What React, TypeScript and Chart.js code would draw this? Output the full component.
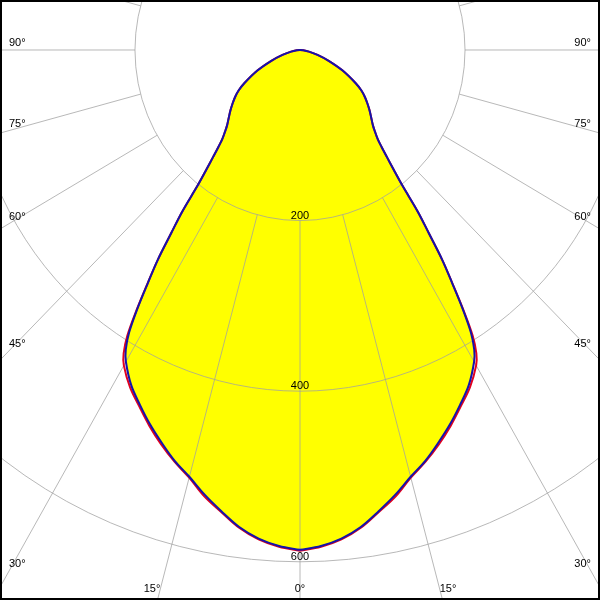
import { useEffect, useRef } from "react";
import { Chart, registerables } from "chart.js";

Chart.register(...registerables);

// Gamma angles (degrees from nadir) and luminous intensity (cd)
const gammaAngles = [0, 2.5, 5, 7.5, 10, 12.5, 15, 17.5, 20, 22.5, 25, 27.5, 30, 31, 32, 33, 34, 35, 36, 37, 38, 39, 40, 41, 42, 43.5, 45, 47.5, 50, 52.5, 55, 57.5, 60, 65, 70, 75, 80, 85, 90];
const intensityC0 = [587, 583, 576, 565, 550, 536, 519, 506, 492, 477, 461, 446, 427, 415, 395, 364, 331, 301, 266, 237, 201, 180, 164, 151, 141, 132, 125, 117, 110, 103, 96, 88, 78, 57, 37, 22, 11, 4, 0];
const intensityC90 = [586, 582, 575, 564, 549, 534, 518, 505, 490, 475, 459, 443, 422, 410, 391, 362, 330, 301, 266, 237, 201, 180, 164, 151, 141, 132, 125, 117, 110, 103, 96, 88, 78, 57, 37, 22, 11, 4, 0];

// Grid
const ringValues = [200, 400, 600, 800];
const ringLabels = ["200", "400", "600"];
const spokeAngles = [0, 15, 30, 45, 60, 75, 90, 105, 120, 135, 150, 165, 180];
const angleLabelValues = [0, 15, 30, 45, 60, 75, 90];

// Visible window of the diagram in cd (x horizontal, y vertical, center at 0,0)
const xRange = [-363.6, 363.6];
const yRange = [-644.8, 58.6];

const toRad = (d: number) => (d * Math.PI) / 180;

function closedCurve(values: number[]) {
  const pts: { x: number; y: number }[] = [];
  for (let i = 0; i < gammaAngles.length; i++) {
    const g = toRad(gammaAngles[i]);
    pts.push({ x: values[i] * Math.sin(g), y: -values[i] * Math.cos(g) });
  }
  for (let i = gammaAngles.length - 2; i >= 0; i--) {
    const g = toRad(gammaAngles[i]);
    pts.push({ x: -values[i] * Math.sin(g), y: -values[i] * Math.cos(g) });
  }
  return pts;
}

const FONT = '11px "Liberation Sans", Arial, sans-serif';

const polarGrid = {
  id: "polarGrid",
  afterDatasetDraw(chart: any, args: any) {
    if (args.index !== 0) return;
    const ctx = chart.ctx;
    const xs = chart.scales.x;
    const ys = chart.scales.y;
    const cx = xs.getPixelForValue(0);
    const cy = ys.getPixelForValue(0);
    ctx.save();
    ctx.strokeStyle = "rgba(160,160,160,0.75)";
    ctx.lineWidth = 1;
    for (const r of ringValues) {
      const rx = xs.getPixelForValue(r) - cx;
      const ry = ys.getPixelForValue(-r) - cy;
      ctx.beginPath();
      ctx.ellipse(cx, cy, rx, ry, 0, 0, Math.PI * 2);
      ctx.stroke();
    }
    const inner = ringValues[0];
    for (const a of spokeAngles) {
      const sides = a === 0 || a === 180 ? [1] : [-1, 1];
      for (const s of sides) {
        const g = toRad(a);
        const x1 = xs.getPixelForValue(s * inner * Math.sin(g));
        const y1 = ys.getPixelForValue(-inner * Math.cos(g));
        const x2 = xs.getPixelForValue(s * 1500 * Math.sin(g));
        const y2 = ys.getPixelForValue(-1500 * Math.cos(g));
        ctx.beginPath();
        ctx.moveTo(x1, y1);
        ctx.lineTo(x2, y2);
        ctx.stroke();
      }
    }
    ctx.restore();
  },
  afterDraw(chart: any) {
    const ctx = chart.ctx;
    const xs = chart.scales.x;
    const ys = chart.scales.y;
    const cx = xs.getPixelForValue(0);
    const cy = ys.getPixelForValue(0);
    const W = chart.width;
    const H = chart.height;
    ctx.save();
    ctx.fillStyle = "#000";
    ctx.font = FONT;
    ringLabels.forEach((lab, i) => {
      const r = ringValues[i];
      const y = ys.getPixelForValue(-r);
      ctx.textAlign = "center";
      ctx.textBaseline = "alphabetic";
      ctx.fillText(lab, cx, y - 2);
    });
    const leftX = 9;
    const rightX = W - 9;
    const bottomY = H - 11;
    for (const a of angleLabelValues) {
      const sides = a === 0 ? [1] : [-1, 1];
      for (const s of sides) {
        const g = toRad(a);
        const ux = xs.getPixelForValue(s * Math.sin(g)) - cx;
        const uy = ys.getPixelForValue(-Math.cos(g)) - cy;
        let side = false;
        let py = 0;
        if (Math.abs(ux) > 1e-9) {
          const tx = ((s < 0 ? leftX : rightX) - cx) / ux;
          py = cy + tx * uy;
          if (py <= bottomY) side = true;
        }
        ctx.textBaseline = "middle";
        if (side) {
          ctx.textAlign = s < 0 ? "left" : "right";
          ctx.fillText(`${a}°`, s < 0 ? leftX : rightX, py - 7);
        } else {
          const t = (bottomY - cy) / uy;
          const px = cx + t * ux;
          ctx.textAlign = a === 0 ? "center" : s < 0 ? "right" : "left";
          ctx.fillText(`${a}°`, px, bottomY);
        }
      }
    }
    ctx.strokeStyle = "#000";
    ctx.lineWidth = 2;
    ctx.strokeRect(1, 1, W - 2, H - 2);
    ctx.restore();
  },
};

export default function App() {
  const ref = useRef<HTMLCanvasElement | null>(null);
  useEffect(() => {
    if (!ref.current) return;
    const chart = new Chart(ref.current, {
      type: "scatter",
      data: {
        datasets: [
          {
            label: "fill",
            data: closedCurve(intensityC90),
            showLine: true,
            fill: "shape",
            backgroundColor: "#ffff00",
            borderWidth: 0,
            borderColor: "rgba(0,0,0,0)",
            pointRadius: 0,
            tension: 0.35,
            order: 3,
          } as any,
          {
            label: "C0-C180",
            data: closedCurve(intensityC0),
            showLine: true,
            fill: false,
            borderColor: "rgb(225,0,30)",
            borderWidth: 2,
            pointRadius: 0,
            tension: 0.35,
            order: 2,
          },
          {
            label: "C90-C270",
            data: closedCurve(intensityC90),
            showLine: true,
            fill: false,
            borderColor: "rgb(20,20,170)",
            borderWidth: 2,
            pointRadius: 0,
            tension: 0.35,
            order: 1,
          },
        ],
      },
      options: {
        animation: false,
        responsive: false,
        devicePixelRatio: 1,
        layout: { padding: 0 },
        plugins: { legend: { display: false }, tooltip: { enabled: false }, title: { display: false } },
        scales: {
          x: { type: "linear", min: xRange[0], max: xRange[1], display: false },
          y: { type: "linear", min: yRange[0], max: yRange[1], display: false },
        },
      },
      plugins: [polarGrid],
    });
    return () => chart.destroy();
  }, []);
  return (
    <div style={{ position: "fixed", left: 0, top: 0, width: 600, height: 600, background: "#fff" }}>
      <canvas ref={ref} width={600} height={600} />
    </div>
  );
}
